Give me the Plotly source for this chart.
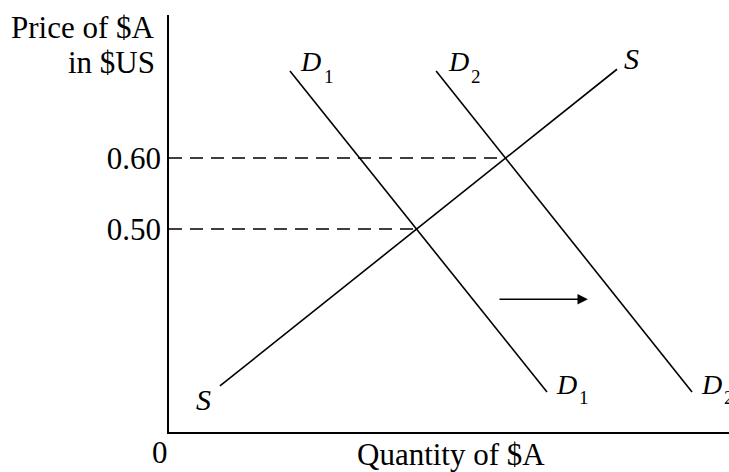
import plotly.graph_objects as go

# Data (quantity in arbitrary units, price of $A in $US)
supply_q = [9.1, 80.0]
supply_p = [0.279, 0.725]
demand1_q = [21.6, 67.5]
demand1_p = [0.7225, 0.2704]
demand2_q = [47.7, 93.4]
demand2_p = [0.7225, 0.2704]
equilibrium_q = [44.2, 60.1]
equilibrium_p = [0.50, 0.60]
price_ticks = [0.50, 0.60]
price_tick_labels = ["0.50", "0.60"]
shift_arrow_q = [58.75, 74.8]
shift_arrow_p = 0.401

SERIF = "Liberation Serif, Times New Roman, serif"
LINE = dict(color="black", width=1.6)

fig = go.Figure()
fig.add_trace(go.Scatter(x=supply_q, y=supply_p, mode="lines", line=LINE, name="S"))
fig.add_trace(go.Scatter(x=demand1_q, y=demand1_p, mode="lines", line=LINE, name="D1"))
fig.add_trace(go.Scatter(x=demand2_q, y=demand2_p, mode="lines", line=LINE, name="D2"))
for q, p in zip(equilibrium_q, equilibrium_p):
    fig.add_trace(go.Scatter(x=[0, q], y=[p, p], mode="lines",
                             line=dict(color="black", width=1.5, dash="13px,8px"),
                             showlegend=False))

ann = []
def lab(x, y, text, dx, dy, size=28):
    ann.append(dict(x=x, y=y, xref="x", yref="y", text=text, showarrow=False,
                    xanchor="center", yanchor="middle", xshift=dx, yshift=dy,
                    font=dict(family=SERIF, size=size, color="black")))

def dlabel(x, y, sub, dx, dy, sdx, sdy):
    lab(x, y, "<i>D</i>", dx, dy, size=28)
    lab(x, y, sub, sdx, sdy, size=19)

dlabel(demand1_q[0], demand1_p[0], "1", 21, 10, 39, -5)
dlabel(demand2_q[0], demand2_p[0], "2", 22, 10, 40, -5)
lab(supply_q[1], supply_p[1], "<i>S</i>", 14, 11, size=30)
lab(supply_q[0], supply_p[0], "<i>S</i>", -16, -14, size=30)
dlabel(demand1_q[1], demand1_p[1], "1", 19, 8, 37, -5)
dlabel(demand2_q[1], demand2_p[1], "2", 19, 8, 37, -5)

# shift arrow
ann.append(dict(x=shift_arrow_q[1], y=shift_arrow_p, ax=shift_arrow_q[0], ay=shift_arrow_p,
                xref="x", yref="y", axref="x", ayref="y", text="", showarrow=True,
                arrowhead=2, arrowsize=1.3, arrowwidth=1.6, arrowcolor="black"))

# axis titles and origin
ann.append(dict(x=-0.0214, y=1.0, xref="paper", yref="paper", text="Price of $A",
                showarrow=False, xanchor="right", yanchor="middle", yshift=-12,
                font=dict(family=SERIF, size=31, color="black")))
ann.append(dict(x=-0.0214, y=1.0, xref="paper", yref="paper", text="in $US",
                showarrow=False, xanchor="right", yanchor="middle", yshift=-47,
                font=dict(family=SERIF, size=31, color="black")))
ann.append(dict(x=0.5, y=0, xref="paper", yref="paper", text="Quantity of $A",
                showarrow=False, xanchor="center", yanchor="middle", xshift=2, yshift=-22,
                font=dict(family=SERIF, size=31, color="black")))
ann.append(dict(x=0, y=0, xref="paper", yref="paper", text="0",
                showarrow=False, xanchor="center", yanchor="middle", xshift=-9, yshift=-20,
                font=dict(family=SERIF, size=31, color="black")))

fig.update_layout(
    width=729, height=472,
    margin=dict(l=169, r=0, t=15, b=40),
    paper_bgcolor="white", plot_bgcolor="white",
    showlegend=False,
    annotations=ann,
    xaxis=dict(range=[0, 100], showgrid=False, zeroline=False, showline=True,
               linecolor="black", linewidth=1.8, showticklabels=False, ticks=""),
    yaxis=dict(range=[0.2141, 0.8014], showgrid=False, zeroline=False, showline=True,
               linecolor="black", linewidth=1.8, tickvals=price_ticks,
               ticktext=price_tick_labels, ticks="", ticklabelstandoff=0,
               tickfont=dict(family=SERIF, size=31, color="black")),
)

fig.write_html("out.html", config={"displayModeBar": False},
               post_script="document.body.style.margin='0';document.body.style.overflow='hidden';")
